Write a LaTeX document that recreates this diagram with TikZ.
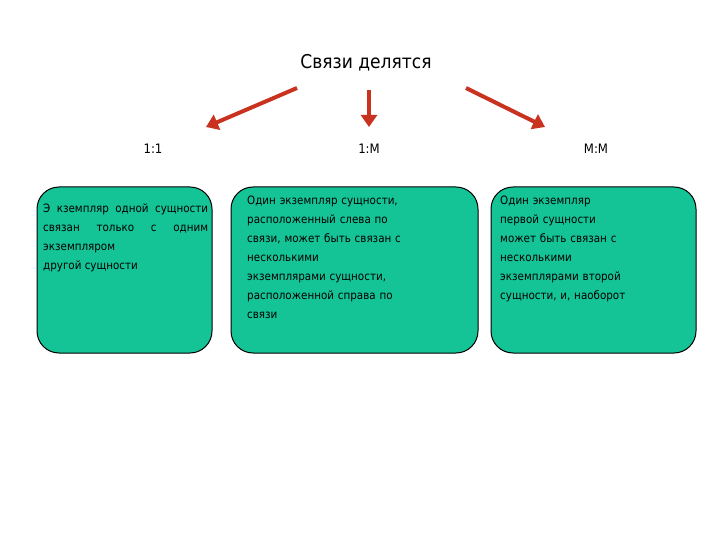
\documentclass[tikz,border=0pt]{standalone}
\usepackage{fontspec}
\setmainfont{DejaVu Sans Condensed}
\usetikzlibrary{arrows.meta}
\definecolor{boxg}{RGB}{20,195,150}
\definecolor{arr}{RGB}{200,50,30}
\begin{document}
\begin{tikzpicture}[x=1pt,y=-1pt,
  box/.style={draw=black,line width=1pt,fill=boxg,rounded corners=22pt},
  txt/.style={anchor=north west,align=left,inner sep=0pt,font=\fontsize{11.5}{19}\selectfont},
  lab/.style={font=\fontsize{13}{15}\selectfont},
  arrw/.style={draw=arr,line width=4pt,-{Triangle[length=12pt,width=16pt]}}]
\useasboundingbox (0,0) rectangle (720,540);
\node[font=\fontsize{19}{22}\selectfont] (title) at (366,63) {Связи делятся};
\coordinate (s1) at (297,88); \coordinate (e1) at (206,127);
\coordinate (s2) at (369,90); \coordinate (e2) at (369,127);
\coordinate (s3) at (466,88); \coordinate (e3) at (545,127);
\draw[arrw] (s1) -- (e1);
\draw[arrw] (s2) -- (e2);
\draw[arrw] (s3) -- (e3);
\node[lab] (l1) at (153,149) {1:1};
\node[lab] (l2) at (369,149) {1:M};
\node[lab] (l3) at (596,149) {M:M};
\draw[box] (37,187) rectangle (212,353);
\draw[box] (231,187) rectangle (478,353);
\draw[box] (491,187) rectangle (696,353);
\node[txt,text width=165pt,align=justify] (t1) at (43,204) {Э кземпляр одной сущности связан только с одним экземпляром\\ другой сущности};
\node[txt,text width=230pt] (t2) at (247,196) {Один экземпляр сущности,\\ расположенный слева по\\ связи, может быть связан с\\ несколькими\\ экземплярами сущности,\\ расположенной справа по\\ связи};
\node[txt,text width=200pt] (t3) at (500,196) {Один экземпляр\\ первой сущности\\ может быть связан с\\ несколькими\\ экземплярами второй\\ сущности, и, наоборот};
\end{tikzpicture}
\end{document}
